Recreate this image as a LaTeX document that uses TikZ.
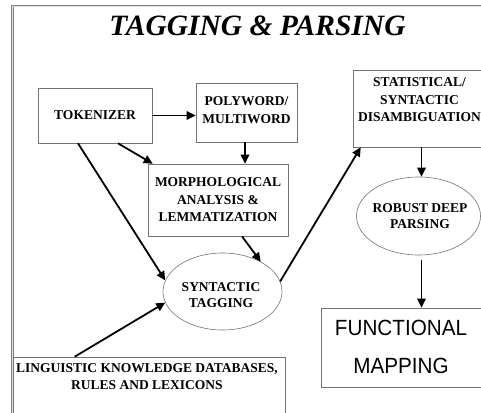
\documentclass[tikz,border=0pt]{standalone}
\usepackage{fontspec}
\setmainfont{Liberation Serif}
\newfontfamily\fmfont[FakeStretch=0.94]{Liberation Sans}
\usetikzlibrary{arrows.meta,shapes.geometric}
\begin{document}
\begin{tikzpicture}[x=1pt,y=-1pt,
  box/.style={draw=black!55, line width=0.6pt, inner sep=0pt},
  txt/.style={font=\bfseries\fontsize{13.5}{17.5}\selectfont, align=center, inner sep=0pt},
  ell/.style={ellipse, draw=black!55, line width=0.6pt, inner sep=0pt},
  arr/.style={-{Triangle[length=9pt,width=8.5pt]}, line width=1.8pt}]
\useasboundingbox (0,0) rectangle (481,412);
\clip (0,0) rectangle (481,412);
\draw[draw=black!50, double=black!12, double distance=0.9pt, line width=0.8pt] (12.5,6) rectangle (520,440);
\node[font=\bfseries\itshape\fontsize{29.5}{32}\selectfont, inner sep=0pt] (title) at (257.5,26) {TAGGING \& PARSING};
% boxes
\node[box, txt, minimum width=114pt, minimum height=55pt] (tok) at (95,115.5) {TOKENIZER};
\node[box, minimum width=101pt, minimum height=59pt] (poly) at (246.5,112.5) {};
\node[txt] (polytext) at (246.5,110) {POLYWORD/\\MULTIWORD};
\node[box, minimum width=133pt, minimum height=77pt] (stat) at (419.5,108.5) {};
\node[txt] (stattext) at (419.5,100) {STATISTICAL/\\SYNTACTIC\\DISAMBIGUATION};
\node[box, txt, minimum width=140pt, minimum height=72pt] (morph) at (218,200) {MORPHOLOGICAL\\ANALYSIS \&\\LEMMATIZATION};
\node[ell, minimum width=124pt, minimum height=78pt] (robust) at (418.5,216) {};
\node[txt, font=\bfseries\fontsize{13.5}{16}\selectfont] (robusttext) at (420,216) {ROBUST DEEP\\PARSING};
\node[ell, minimum width=119pt, minimum height=77pt] (syn) at (222.5,291.5) {};
\node[txt, font=\bfseries\fontsize{13.5}{15.5}\selectfont] (syntext) at (221,295) {SYNTACTIC\\TAGGING};
\node[box, minimum width=272pt, minimum height=73pt] (ling) at (149,393.5) {};
\node[txt] (lingtext) at (147,376.5) {LINGUISTIC KNOWLEDGE DATABASES,\\RULES AND LEXICONS};
\node[box, minimum width=168pt, minimum height=79pt] (func) at (405,347.5) {};
\node[font=\fmfont\fontsize{22}{38.5}\selectfont, align=center, inner sep=0pt] (functext) at (401,347) {FUNCTIONAL\\MAPPING};
% arrows
\draw[arr] (tok.east) -- (tok.east -| poly.west);
\draw[arr] ([xshift=23pt]tok.south) -- ([xshift=5pt]morph.north west);
\draw[arr] ([xshift=-17pt]tok.south) -- (syn.169);
\draw[arr] ([xshift=-1.5pt]poly.south) -- ([xshift=-1.5pt]poly.south |- morph.north);
\draw[arr] ([xshift=24pt]morph.south) -- (syn.38);
\draw[arr] (syn.10) -- ([xshift=8pt]stat.south west);
\draw[arr] ([xshift=3pt]robust.north |- stat.south) -- ([xshift=3pt]robust.north);
\draw[arr, shorten <=5pt] ([xshift=3pt]robust.south) -- ([xshift=3pt]robust.south |- func.north);
\draw[arr] ([xshift=62pt]ling.north west) -- (syn.191);
\end{tikzpicture}
\end{document}
